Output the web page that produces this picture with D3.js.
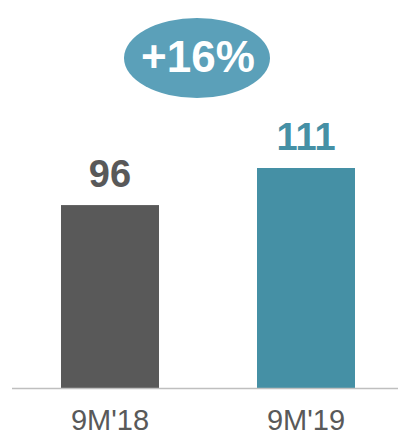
<!DOCTYPE html>
<html><head><meta charset="utf-8">
<script src="https://cdn.jsdelivr.net/npm/d3@7"></script>
<style>html,body{margin:0;padding:0;background:#fff;}svg{display:block;font-family:"Liberation Sans",Arial,sans-serif;}</style>
</head><body>
<script>
const categories = ["9M'18", "9M'19"];
const values = [96, 111];
const barColors = ["#595959", "#4590a5"];
const labelColors = ["#595959", "#4590a5"];
const growthLabel = "+16%";

const W = 398, H = 435;
const svg = d3.select("body").append("svg").attr("width", W).attr("height", H);

const x = d3.scaleBand().domain(categories).range([12, 404]).paddingInner(0.5).paddingOuter(0.25);
const y = d3.scaleLinear().domain([22, 111]).range([388, 168]);

svg.selectAll("rect.bar").data(values).enter().append("rect")
  .attr("class", "bar")
  .attr("x", (d, i) => x(categories[i]))
  .attr("width", x.bandwidth())
  .attr("y", d => y(d))
  .attr("height", d => 388 - y(d))
  .attr("fill", (d, i) => barColors[i]);

svg.append("line").attr("x1", 12).attr("x2", 398).attr("y1", 388.5).attr("y2", 388.5)
  .attr("stroke", "#bfbfbf").attr("stroke-width", 1.5);

svg.selectAll("text.val").data(values).enter().append("text")
  .attr("x", (d, i) => x(categories[i]) + x.bandwidth() / 2)
  .attr("y", d => y(d) - 18)
  .attr("text-anchor", "middle")
  .attr("font-size", 38).attr("font-weight", "bold")
  .attr("fill", (d, i) => labelColors[i])
  .text(d => d);

svg.selectAll("text.cat").data(categories).enter().append("text")
  .attr("x", d => x(d) + x.bandwidth() / 2)
  .attr("y", 430)
  .attr("text-anchor", "middle")
  .attr("font-size", 29)
  .attr("fill", "#595959")
  .text(d => d);

svg.append("ellipse").attr("cx", 197).attr("cy", 58).attr("rx", 73).attr("ry", 40).attr("fill", "#5ba0b9");
svg.append("text").attr("x", 198).attr("y", 72).attr("text-anchor", "middle")
  .attr("font-size", 44).attr("font-weight", "bold").attr("fill", "#fff").text(growthLabel);
</script>
</body></html>
